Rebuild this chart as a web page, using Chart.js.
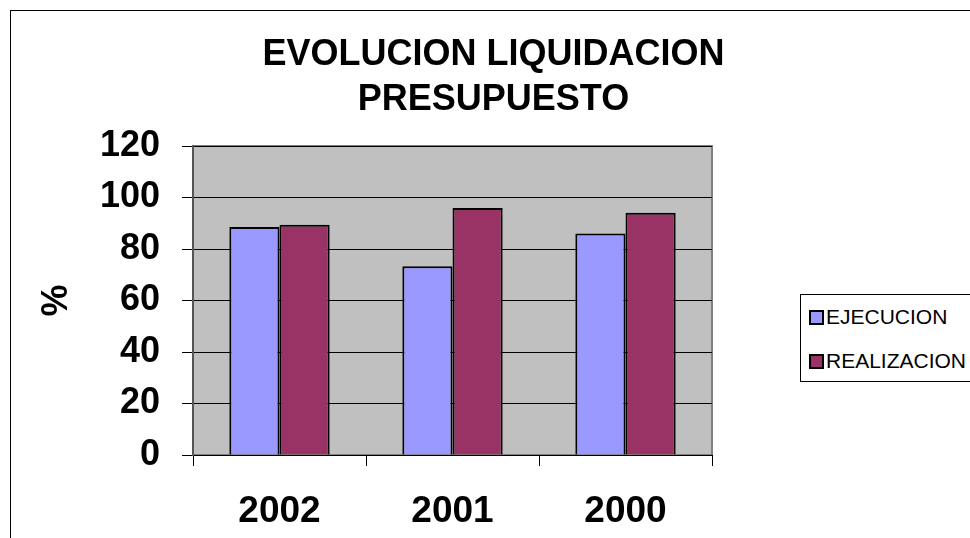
<!DOCTYPE html>
<html>
<head>
<meta charset="utf-8">
<script src="https://cdn.jsdelivr.net/npm/chart.js@4/dist/chart.umd.min.js"></script>
<style>
  html, body { margin: 0; padding: 0; background: #fff; overflow: hidden; }
  #wrap { position: relative; width: 970px; height: 538px; }
  #legend {
    position: absolute; left: 800px; top: 294px; width: 200px; height: 86px;
    border: 1px solid #000; background: #fff;
    font-family: Arial, "Liberation Sans", sans-serif; font-size: 21px;
  }
  #legend .item { position: absolute; left: 8px; height: 24px; line-height: 24px; white-space: nowrap; }
  #legend .box { display: inline-block; width: 11px; height: 11px; border: 2px solid #000; margin-right: 2px; vertical-align: -1px; }
</style>
</head>
<body>
<div id="wrap">
  <canvas id="chart1" width="970" height="538"></canvas>
  <div id="legend"></div>
</div>
<script>
const years = ['2002', '2001', '2000'];
const ejecucion = [88.5, 73.3, 86.0];
const realizacion = [89.4, 95.9, 94.1];
const yTicks = [0, 20, 40, 60, 80, 100, 120];

const font = 'Arial, "Liberation Sans", sans-serif';

// gray plot background + outer frame
const frame = {
  id: 'frame',
  beforeDraw(chart) {
    const ctx = chart.ctx;
    const a = chart.chartArea;
    ctx.save();
    ctx.strokeStyle = '#000';
    ctx.lineWidth = 1;
    ctx.strokeRect(10.5, 10.5, 1000, 600);
    ctx.fillStyle = '#c0c0c0';
    ctx.fillRect(a.left, a.top, a.right - a.left, a.bottom - a.top);
    ctx.strokeStyle = '#808080';
    ctx.lineWidth = 2;
    ctx.strokeRect(a.left, a.top, a.right - a.left, a.bottom - a.top);
    ctx.restore();
  }
};

const chart = new Chart(document.getElementById('chart1'), {
  type: 'bar',
  data: {
    labels: years,
    datasets: [
      { label: 'EJECUCION', data: ejecucion, backgroundColor: '#9999ff', borderColor: '#000', borderWidth: 2 },
      { label: 'REALIZACION', data: realizacion, backgroundColor: '#993366', borderColor: '#000', borderWidth: 2 }
    ]
  },
  options: {
    responsive: false,
    animation: false,
    layout: { padding: { left: 35, right: 18, top: 0, bottom: 0 } },
    datasets: { bar: { categoryPercentage: 0.58, barPercentage: 1.0 } },
    plugins: {
      legend: { display: false },
      tooltip: { enabled: false },
      title: {
        display: true,
        text: ['EVOLUCION LIQUIDACION', 'PRESUPUESTO'],
        color: '#000',
        font: { family: font, size: 36, weight: 'bold', lineHeight: 1.25 },
        padding: { top: 33, bottom: 23 }
      }
    },
    scales: {
      x: {
        grid: { drawOnChartArea: false, color: '#000', tickLength: 11, offset: true },
        border: { color: '#000' },
        ticks: { color: '#000', font: { family: font, size: 37, weight: 'bold' }, padding: 24 },
        afterFit(s) { s.height = 83; }
      },
      y: {
        min: 0, max: 120,
        afterBuildTicks(s) { s.ticks = yTicks.map(v => ({ value: v })); },
        grid: { color: '#000', tickLength: 11 },
        border: { color: '#555', width: 2 },
        ticks: { color: '#000', font: { family: font, size: 36, weight: 'bold' }, padding: 22 },
        title: { display: true, text: '%', color: '#000', font: { family: font, size: 36, weight: 'bold' }, padding: 0 },
        afterFit(s) { s.width = 158; }
      },
      // empty right axis: reserves the space where the legend sits
      spacer: {
        position: 'right',
        grid: { display: false },
        border: { display: false },
        ticks: { display: false },
        afterFit(s) { s.width = 240; }
      }
    }
  },
  plugins: [frame]
});

// legend
const lg = document.getElementById('legend');
chart.data.datasets.forEach((d, i) => {
  const it = document.createElement('div');
  it.className = 'item';
  it.style.top = (10 + i * 44) + 'px';
  it.innerHTML = '<span class="box" style="background:' + d.backgroundColor + '"></span>' + d.label;
  lg.appendChild(it);
});
</script>
</body>
</html>
